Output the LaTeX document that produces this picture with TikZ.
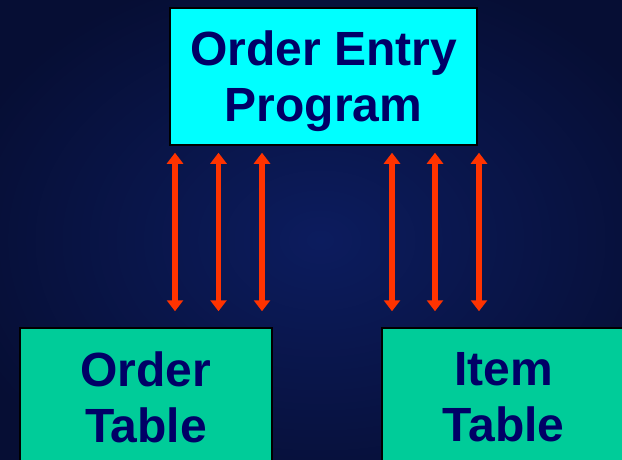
\documentclass[tikz,border=0pt]{standalone}
\usepackage{fontspec}
\setmainfont{Liberation Sans}
\usetikzlibrary{arrows.meta}
\definecolor{navytext}{RGB}{0,0,102}
\definecolor{cyanbox}{RGB}{0,255,255}
\definecolor{greenbox}{RGB}{0,204,153}
\definecolor{linkred}{RGB}{255,51,0}
\definecolor{bginner}{RGB}{12,28,94}
\definecolor{bgouter}{RGB}{6,14,52}
\tikzset{
  box/.style={draw=black, line width=1.5pt, align=center, text=navytext,
    font=\fontsize{48}{56}\selectfont\bfseries, inner sep=0pt},
  link/.style={linkred, line width=5.5pt,
    {Triangle[width=16pt,length=11pt]}-{Triangle[width=16pt,length=11pt]},
    shorten <=7pt, shorten >=16pt}
}
\begin{document}
\begin{tikzpicture}[x=1pt,y=-1pt]
        \useasboundingbox (0,0) rectangle (622,460);
        \clip (0,0) rectangle (622,460);
        \shade[inner color=bginner, outer color=bgouter] (-60,-40) rectangle (700,520);
        \node[box, fill=cyanbox, minimum width=307pt, minimum height=137pt, text depth=0pt]
              (prog)    at (323.5,76.5)  {Order Entry\\Program};
        \node[box, fill=greenbox, minimum width=252pt, minimum height=139pt]
              (ordtab)  at (146,397.5)   {Order\\Table};
        \node[box, fill=greenbox, minimum width=243pt, minimum height=139pt]
              (itemtab) at (503.5,397.5) {Item\\Table};
        \foreach \x in {175,218.5,262}
          \draw[link] (\x,0 |- prog.south) -- (\x,0 |- ordtab.north);
        \foreach \x in {392,435,479}
          \draw[link] (\x,0 |- prog.south) -- (\x,0 |- itemtab.north);
    \end{tikzpicture}
\end{document}
